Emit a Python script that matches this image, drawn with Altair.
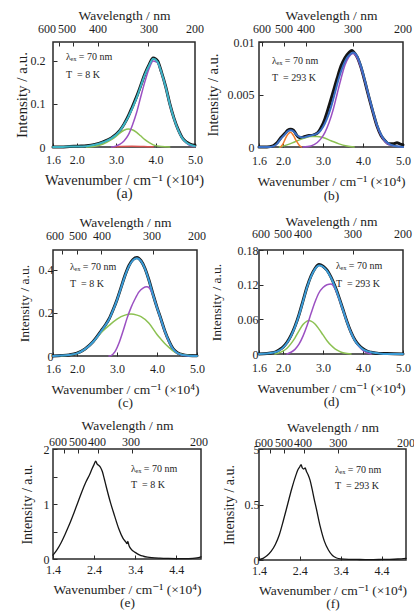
import altair as alt
import pandas as pd

FONT = "'Liberation Serif', 'Times New Roman', 'DejaVu Serif', serif"
INK = "#1e1e1e"
FRAME = "#2a2a2a"
BLACK = "#151515"
PURPLE = "#9b50c2"
GREEN = "#8cc152"
ORANGE = "#f07a2a"
RED = "#d9534f"
CYAN = "#3cb4c4"
BLUE_B = "#3a6fc4"
BLUE_CD = "#3b9bd6"

XTITLE = "Wavenumber / cm\u207b\u00b9 (\u00d710\u2074)"
YTITLE = "Intensity / a.u."
TTITLE = "Wavelength / nm"
LAMBDA = "\u03bb\u2091\u2093 = 70 nm"
WL_TEXT = ["600", "500", "400", "300", "200"]

# ---------------- panel (a) : 8 K ----------------
a_x = [1.40, 1.61, 1.82, 2.04, 2.25, 2.46, 2.67, 2.88, 3.09, 3.20, 3.31, 3.41, 3.52, 3.62,
       3.73, 3.84, 3.94, 4.05, 4.15, 4.26, 4.36, 4.47, 4.58, 4.68, 4.79, 4.89, 5.00]
a_obs = [0.000, 0.000, 0.001, 0.002, 0.003, 0.006, 0.012, 0.021, 0.038, 0.053, 0.072, 0.093,
         0.117, 0.142, 0.170, 0.192, 0.207, 0.200, 0.174, 0.139, 0.101, 0.066, 0.039, 0.021,
         0.011, 0.006, 0.004]
a_fit = [0.000, 0.000, 0.001, 0.001, 0.002, 0.005, 0.011, 0.020, 0.037, 0.052, 0.070, 0.090,
         0.114, 0.140, 0.168, 0.190, 0.205, 0.198, 0.173, 0.138, 0.100, 0.065, 0.038, 0.020,
         0.010, 0.005, 0.002]
a_purple_x = [2.88, 2.99, 3.09, 3.20, 3.31, 3.41, 3.52, 3.62, 3.73, 3.84, 3.94, 4.05, 4.15,
              4.26, 4.36, 4.47, 4.58, 4.68, 4.79, 4.89, 5.00]
a_purple = [0.000, 0.002, 0.006, 0.014, 0.028, 0.050, 0.080, 0.115, 0.152, 0.183, 0.200, 0.196,
            0.172, 0.138, 0.100, 0.065, 0.038, 0.020, 0.009, 0.003, 0.001]
a_green_x = [2.25, 2.46, 2.67, 2.88, 2.99, 3.09, 3.20, 3.31, 3.41, 3.52, 3.62, 3.73, 3.84,
             3.94, 4.15, 4.36]
a_green = [0.000, 0.002, 0.007, 0.017, 0.024, 0.032, 0.039, 0.042, 0.040, 0.034, 0.026, 0.017,
           0.010, 0.005, 0.001, 0.000]
a_red_x = [2.92, 3.10, 3.40, 3.70, 3.94]
a_red = [0.0005, 0.0010, 0.0015, 0.0010, 0.0005]

# ---------------- panel (b) : 293 K ----------------
b_obs_x = [1.40, 1.60, 1.75, 1.85, 1.95, 2.05, 2.12, 2.19, 2.26, 2.33, 2.40, 2.46, 2.55, 2.65,
           2.72, 2.80, 2.88, 2.96, 3.05, 3.15, 3.25, 3.35, 3.45, 3.55, 3.65, 3.72, 3.75, 3.80,
           3.85, 3.95, 4.05, 4.15, 4.25, 4.35, 4.45, 4.55, 4.65, 4.75, 4.85, 4.92, 5.00]
b_obs = [0, 0, 0.0001, 0.0004, 0.0009, 0.0013, 0.0016, 0.0017, 0.0016, 0.0012, 0.0009, 0.0009,
         0.0010, 0.0011, 0.0011, 0.0012, 0.0014, 0.0019, 0.0027, 0.0039, 0.0052, 0.0065, 0.0077,
         0.0085, 0.0090, 0.0092, 0.0091, 0.0089, 0.0086, 0.0076, 0.0062, 0.0047, 0.0033, 0.0020,
         0.0011, 0.0006, 0.0003, 0.0003, 0.0004, 0.0003, 0.0002]
b_fit_x = [1.40, 1.70, 1.85, 1.95, 2.05, 2.12, 2.19, 2.26, 2.33, 2.40, 2.50, 2.60, 2.70, 2.80,
           2.90, 3.00, 3.10, 3.20, 3.30, 3.40, 3.50, 3.60, 3.70, 3.76, 3.85, 3.95, 4.05, 4.15,
           4.25, 4.35, 4.45, 4.55, 4.65, 4.80, 5.00]
b_fit = [0, 0, 0.0003, 0.0008, 0.0012, 0.0015, 0.0016, 0.0015, 0.0012, 0.0010, 0.0009, 0.0010,
         0.0011, 0.0012, 0.0014, 0.0019, 0.0027, 0.0038, 0.0052, 0.0066, 0.0077, 0.0085, 0.0089,
         0.0090, 0.0087, 0.0077, 0.0063, 0.0048, 0.0034, 0.0021, 0.0012, 0.0006, 0.0003, 0.0001,
         0.0]
b_orange_x = [1.94, 2.00, 2.06, 2.12, 2.19, 2.26, 2.33, 2.40, 2.46]
b_orange = [0, 0.0003, 0.0008, 0.0012, 0.0014, 0.0011, 0.0006, 0.0002, 0]
b_green_x = [1.91, 2.10, 2.30, 2.50, 2.70, 2.85, 3.00, 3.20, 3.40, 3.60, 3.78]
b_green = [0, 0.0002, 0.0005, 0.0008, 0.0010, 0.0010, 0.0009, 0.0006, 0.0003, 0.0001, 0]
b_purple_x = [2.50, 2.70, 2.85, 2.95, 3.05, 3.15, 3.25, 3.35, 3.45, 3.55, 3.65, 3.75, 3.85,
              3.95, 4.05, 4.15, 4.25, 4.35, 4.45, 4.55, 4.65, 4.80, 5.00]
b_purple = [0, 0.0001, 0.0004, 0.0008, 0.0014, 0.0023, 0.0035, 0.0050, 0.0065, 0.0078, 0.0086,
            0.0089, 0.0085, 0.0075, 0.0062, 0.0047, 0.0033, 0.0020, 0.0011, 0.0005, 0.0002,
            0.0001, 0]

# ---------------- panel (c) : 8 K ----------------
c_x = [1.40, 1.60, 1.80, 2.00, 2.20, 2.40, 2.50, 2.60, 2.70, 2.80, 2.90, 3.00, 3.10, 3.20,
       3.30, 3.40, 3.50, 3.60, 3.70, 3.80, 3.90, 4.00, 4.10, 4.20, 4.30, 4.40, 4.50, 4.60,
       4.70, 4.80, 5.00]
c_obs = [0, 0.002, 0.005, 0.013, 0.033, 0.066, 0.090, 0.116, 0.142, 0.172, 0.214, 0.262, 0.318,
         0.375, 0.421, 0.449, 0.458, 0.443, 0.407, 0.352, 0.287, 0.226, 0.171, 0.114, 0.069,
         0.034, 0.016, 0.008, 0.004, 0.002, 0.001]
c_fit = [0, 0.002, 0.005, 0.012, 0.032, 0.065, 0.088, 0.114, 0.140, 0.170, 0.212, 0.260, 0.316,
         0.373, 0.418, 0.446, 0.455, 0.441, 0.405, 0.350, 0.285, 0.225, 0.170, 0.113, 0.068,
         0.033, 0.015, 0.007, 0.003, 0.001, 0]
c_green_x = [1.60, 1.80, 2.00, 2.20, 2.40, 2.60, 2.80, 3.00, 3.20, 3.35, 3.50, 3.60, 3.80,
             4.00, 4.10, 4.20, 4.30, 4.40, 4.50, 4.60, 4.80, 5.00]
c_green = [0.001, 0.005, 0.012, 0.032, 0.065, 0.108, 0.142, 0.172, 0.190, 0.195, 0.190, 0.183,
           0.152, 0.100, 0.078, 0.057, 0.040, 0.024, 0.014, 0.008, 0.002, 0]
c_purple_x = [2.80, 2.85, 2.95, 3.05, 3.15, 3.25, 3.35, 3.45, 3.55, 3.65, 3.75, 3.80, 3.90,
              4.00, 4.10, 4.20, 4.30, 4.40, 4.50, 4.60, 4.70, 4.80]
c_purple = [0, 0.002, 0.020, 0.060, 0.115, 0.175, 0.225, 0.265, 0.298, 0.316, 0.322, 0.318,
            0.283, 0.225, 0.168, 0.112, 0.066, 0.032, 0.014, 0.006, 0.002, 0]

# ---------------- panel (d) : 293 K ----------------
d_x = [1.40, 1.60, 1.80, 1.90, 2.00, 2.10, 2.20, 2.30, 2.40, 2.50, 2.60, 2.70, 2.80, 2.90,
       3.00, 3.10, 3.20, 3.30, 3.40, 3.50, 3.60, 3.70, 3.80, 3.90, 4.00, 4.10, 4.20, 4.40,
       4.60, 5.00]
d_obs = [0, 0.001, 0.003, 0.007, 0.012, 0.020, 0.032, 0.048, 0.068, 0.092, 0.116, 0.135, 0.148,
         0.155, 0.152, 0.145, 0.133, 0.117, 0.098, 0.077, 0.056, 0.038, 0.024, 0.015, 0.009,
         0.005, 0.003, 0.001, 0.001, 0]
d_fit = [0, 0.001, 0.003, 0.006, 0.011, 0.019, 0.031, 0.047, 0.067, 0.091, 0.115, 0.134, 0.147,
         0.153, 0.151, 0.144, 0.132, 0.116, 0.097, 0.076, 0.055, 0.037, 0.023, 0.014, 0.008,
         0.005, 0.003, 0.001, 0, 0]
d_purple_x = [2.10, 2.20, 2.30, 2.40, 2.50, 2.60, 2.70, 2.80, 2.90, 3.00, 3.10, 3.20, 3.30,
              3.40, 3.50, 3.60, 3.70, 3.80, 3.90, 4.00, 4.10, 4.20]
d_purple = [0, 0.003, 0.008, 0.017, 0.031, 0.049, 0.070, 0.090, 0.106, 0.115, 0.120, 0.121,
            0.113, 0.096, 0.076, 0.055, 0.037, 0.023, 0.013, 0.006, 0.002, 0]
d_green_x = [1.80, 1.90, 2.00, 2.10, 2.20, 2.30, 2.40, 2.50, 2.60, 2.65, 2.70, 2.80, 2.90,
             3.00, 3.10, 3.20, 3.30, 3.40, 3.50, 3.60, 3.70]
d_green = [0, 0.002, 0.005, 0.010, 0.018, 0.028, 0.040, 0.051, 0.057, 0.058, 0.057, 0.052,
           0.043, 0.033, 0.023, 0.015, 0.009, 0.005, 0.002, 0.001, 0]

# ---------------- panel (e) : 8 K ----------------
e_x = [1.40, 1.50, 1.60, 1.70, 1.80, 1.90, 2.00, 2.10, 2.20, 2.30, 2.35, 2.40, 2.44, 2.47,
       2.50, 2.53, 2.56, 2.60, 2.65, 2.70, 2.80, 2.90, 3.00, 3.10, 3.17, 3.20, 3.22, 3.25,
       3.30, 3.40, 3.50, 3.60, 3.70, 3.80, 4.00, 4.20, 4.40, 4.60, 4.80, 4.90, 5.00]
e_y = [0.07, 0.17, 0.30, 0.46, 0.63, 0.82, 1.02, 1.22, 1.40, 1.55, 1.64, 1.72, 1.78, 1.73,
       1.71, 1.69, 1.66, 1.59, 1.45, 1.30, 1.02, 0.78, 0.55, 0.38, 0.31, 0.28, 0.32, 0.24,
       0.18, 0.12, 0.075, 0.05, 0.035, 0.025, 0.015, 0.01, 0.008, 0.008, 0.012, 0.02, 0.04]

# ---------------- panel (f) : 293 K ----------------
f_x = [1.40, 1.50, 1.60, 1.70, 1.80, 1.90, 2.00, 2.10, 2.20, 2.30, 2.35, 2.40, 2.43, 2.46,
       2.50, 2.53, 2.56, 2.60, 2.65, 2.70, 2.75, 2.80, 2.90, 3.00, 3.10, 3.20, 3.30, 3.40,
       3.60, 3.80, 4.00, 4.20, 4.40, 4.60, 4.80, 5.00]
f_y = [0.004, 0.015, 0.04, 0.08, 0.14, 0.23, 0.36, 0.50, 0.64, 0.76, 0.81, 0.84, 0.86, 0.83,
       0.82, 0.83, 0.80, 0.77, 0.72, 0.64, 0.55, 0.47, 0.30, 0.17, 0.09, 0.04, 0.018, 0.01,
       0.006, 0.005, 0.004, 0.004, 0.005, 0.006, 0.009, 0.015]

# axis tick values / wavelength label positions (in wavenumber units, 1e4 cm-1)
x_ticks_ad = [1.4, 2.0, 3.0, 4.0, 5.0]
x_ticks_ef = [1.4, 2.4, 3.4, 4.4]
a_top_ticks = [1.552, 1.907, 2.541, 3.809]
a_top_pos = [1.248, 1.755, 2.541, 3.834, 5.0]
b_top_ticks = [1.475, 2.025, 2.575, 3.75]
b_top_pos = [1.475, 2.025, 2.575, 3.75, 5.0]
c_top_ticks = [1.62, 2.01, 2.6, 3.9]
c_top_pos = [1.45, 2.025, 2.625, 3.875, 5.0]
d_top_ticks = [1.6, 2.0, 2.5, 3.75]
d_top_pos = [1.45, 2.0, 2.5, 3.75, 5.0]
ef_top_ticks = [1.667, 2.0, 2.5, 3.333]
e_top_pos = [1.52, 2.01, 2.47, 3.30, 4.95]
f_top_pos = [1.52, 2.01, 2.48, 3.34, 5.0]

NEG_TICK = alt.ExprRef(expr="-4")


def panel(p):
    xsc = alt.Scale(domain=[1.4, 5.0], nice=False, zero=False)
    ysc = alt.Scale(domain=p["ydom"], nice=False, zero=False)
    bx = dict(orient="bottom", values=p["xticks"], format=".1f", domain=False, grid=False,
              tickSize=NEG_TICK, tickColor=FRAME, tickWidth=1,
              labelFont=FONT, labelFontSize=12, labelColor=INK, labelPadding=p["xlabpad"],
              labelBaseline="middle", labelOverlap=False, labelFlush=False,
              title=[XTITLE, p["cap"]], titleFont=FONT, titleFontSize=p["xtfs"],
              titleFontWeight="normal", titleColor=INK, titleX=p["w"] / 2,
              titleY=p["xtity"], titleBaseline="top", titleAlign="center",
              titleLineHeight=p["caplh"])
    if p.get("xlabexpr"):
        bx["labelExpr"] = p["xlabexpr"]
    ly = dict(orient="left", values=p["yticks"], format="~g", domain=False, grid=False,
              tickSize=NEG_TICK, tickColor=FRAME, tickWidth=1,
              labelFont=FONT, labelFontSize=12, labelColor=INK, labelPadding=p["ylabpad"],
              labelAlign="right", labelBaseline="middle", labelOverlap=False, labelFlush=False,
              title=YTITLE, titleFont=FONT, titleFontSize=p["ytfs"], titleFontWeight="normal",
              titleColor=INK, titleAngle=270, titleX=p["ytitx"], titleY=p["h"] / 2,
              titleAlign="center", titleBaseline="middle")
    if p.get("ylabexpr"):
        ly["labelExpr"] = p["ylabexpr"]
    tx = dict(orient="top", values=p["top_ticks"], labels=False, domain=False, grid=False,
              tickSize=NEG_TICK, tickColor=FRAME, tickWidth=1,
              title=TTITLE, titleFont=FONT, titleFontSize=13.5, titleFontWeight="normal",
              titleColor=INK, titleX=p["w"] / 2, titleY=p["toptity"],
              titleAlign="center", titleBaseline="middle")

    layers = []
    for i, (xs, ys, color, sw) in enumerate(p["series"]):
        df = pd.DataFrame({"x": xs, "y": ys})
        if i == 0:
            xe = alt.X("x:Q", scale=xsc, axis=alt.Axis(**bx))
            ye = alt.Y("y:Q", scale=ysc, axis=alt.Axis(**ly))
        else:
            xe = alt.X("x:Q", scale=xsc, axis=None)
            ye = alt.Y("y:Q", scale=ysc, axis=None)
        layers.append(
            alt.Chart(df).mark_line(color=color, strokeWidth=sw, interpolate="monotone",
                                    strokeJoin="round", strokeCap="round")
            .encode(x=xe, y=ye)
        )

    top_df = pd.DataFrame({"x": p["top_pos"], "t": WL_TEXT})
    layers.append(
        alt.Chart(top_df).mark_text(font=FONT, fontSize=12, color=INK, align="center",
                                    baseline="middle")
        .encode(x=alt.X("x:Q", scale=xsc, axis=alt.Axis(**tx)),
                y=alt.value(p["toplaby"]), text="t:N")
    )
    one = pd.DataFrame({"k": [0]})
    ax, ay1, ay2 = p["ann"]
    layers.append(
        alt.Chart(one).mark_text(font=FONT, fontSize=10, color=INK, align="left",
                                 baseline="middle", text=LAMBDA)
        .encode(x=alt.value(ax), y=alt.value(ay1))
    )
    layers.append(
        alt.Chart(one).mark_text(font=FONT, fontSize=10, color=INK, align="left",
                                 baseline="middle", text=p["temp"])
        .encode(x=alt.value(ax), y=alt.value(ay2))
    )
    return (alt.layer(*layers)
            .resolve_axis(x="independent", y="independent")
            .properties(width=p["w"], height=p["h"]))


LAB16 = "datum.value < 1.5 ? '1.6' : format(datum.value, '.1f')"
T8 = "T\u00a0 = 8 K"
T293 = "T\u00a0 = 293 K"

pa = dict(w=142, h=105, ydom=[0, 0.244], yticks=[0, 0.1, 0.2], xticks=x_ticks_ad,
          xlabexpr=LAB16, top_ticks=a_top_ticks, top_pos=a_top_pos, toplaby=-13,
          toptity=-27, xlabpad=16, xtity=26, xtfs=14.5, ytfs=15, caplh=13.5, cap="(a)",
          ylabpad=12, ytitx=-32, ann=(13, 15, 33), temp=T8,
          series=[(a_x, a_obs, BLACK, 3), (a_green_x, a_green, GREEN, 1.5),
                  (a_red_x, a_red, RED, 1.5), (a_purple_x, a_purple, PURPLE, 1.5),
                  (a_x, a_fit, CYAN, 2)])
pb = dict(w=144, h=105, ydom=[0, 0.01], yticks=[0, 0.005, 0.01], xticks=x_ticks_ad,
          xlabexpr=LAB16, top_ticks=b_top_ticks, top_pos=b_top_pos, toplaby=-13,
          toptity=-27, xlabpad=17, xtity=27, xtfs=13.5, ytfs=14.5, caplh=14, cap="(b)",
          ylabpad=9, ytitx=-46, ann=(13, 19, 36), temp=T293,
          series=[(b_obs_x, b_obs, BLACK, 3), (b_green_x, b_green, GREEN, 1.5),
                  (b_orange_x, b_orange, ORANGE, 1.5), (b_purple_x, b_purple, PURPLE, 1.5),
                  (b_fit_x, b_fit, BLUE_B, 2)])
pc = dict(w=144, h=106, ydom=[0, 0.493], yticks=[0, 0.2, 0.4], xticks=x_ticks_ad,
          xlabexpr=LAB16, top_ticks=c_top_ticks, top_pos=c_top_pos, toplaby=-14,
          toptity=-28, xlabpad=16, xtity=26, xtfs=13.5, ytfs=13.5, caplh=13.5, cap="(c)",
          ylabpad=4, ytitx=-29, ann=(17, 17, 34), temp=T8,
          series=[(c_x, c_obs, BLACK, 3), (c_green_x, c_green, GREEN, 1.5),
                  (c_purple_x, c_purple, PURPLE, 1.5), (c_x, c_fit, BLUE_CD, 2)])
pd_ = dict(w=144, h=104, ydom=[0, 0.18], yticks=[0, 0.06, 0.12, 0.18], xticks=x_ticks_ad,
           xlabexpr=LAB16, top_ticks=d_top_ticks, top_pos=d_top_pos, toplaby=-16,
           toptity=-29, xlabpad=17, xtity=27, xtfs=13.5, ytfs=13.5, caplh=13.5, cap="(d)",
           ylabpad=5, ytitx=-43, ann=(77, 16, 34), temp=T293,
           series=[(d_x, d_obs, BLACK, 3), (d_green_x, d_green, GREEN, 1.5),
                   (d_purple_x, d_purple, PURPLE, 1.5), (d_x, d_fit, BLUE_CD, 2)])
pe = dict(w=148, h=110, ydom=[0, 2], yticks=[0, 0.5, 1, 1.5, 2], xticks=x_ticks_ef,
          ylabexpr="datum.value % 1 == 0 ? datum.label : ''",
          top_ticks=ef_top_ticks, top_pos=e_top_pos, toplaby=-7,
          toptity=-24, xlabpad=14, xtity=23, xtfs=13.5, ytfs=14, caplh=13, cap="(e)",
          ylabpad=8, ytitx=-26, ann=(78, 20, 36), temp=T8,
          series=[(e_x, e_y, BLACK, 1.3)])
pf = dict(w=147, h=111, ydom=[0, 1], yticks=[0, 0.5, 1], xticks=x_ticks_ef,
          ylabexpr="datum.value == 1 ? '5' : datum.label",
          top_ticks=ef_top_ticks, top_pos=f_top_pos, toplaby=-6,
          toptity=-22, xlabpad=14, xtity=23, xtfs=13.5, ytfs=14, caplh=13, cap="(f)",
          ylabpad=4, ytitx=-30, ann=(76, 21, 37), temp=T293,
          series=[(f_x, f_y, BLACK, 1.3)])


def spacer(h):
    return (alt.Chart(pd.DataFrame({"v": [0]}))
            .mark_point(opacity=0)
            .encode(x=alt.X("v:Q", axis=None), y=alt.Y("v:Q", axis=None))
            .properties(width=1, height=h,
                        view=alt.ViewBackground(strokeOpacity=0, fillOpacity=0)))


chart = (
    alt.concat(panel(pa), panel(pb), spacer(103), spacer(103),
               panel(pc), panel(pd_), spacer(93), spacer(93),
               panel(pe), panel(pf),
               columns=2, spacing={"row": 0, "column": 58}, bounds="flush")
    .properties(autosize=alt.AutoSizeParams(type="none"),
                padding={"left": 53, "top": 42, "right": 361, "bottom": 569},
                background="white")
    .configure(font=FONT)
    .configure_view(stroke=FRAME, strokeWidth=1.5)
)

chart.save("out.html", embed_options={"renderer": "svg", "actions": False})
